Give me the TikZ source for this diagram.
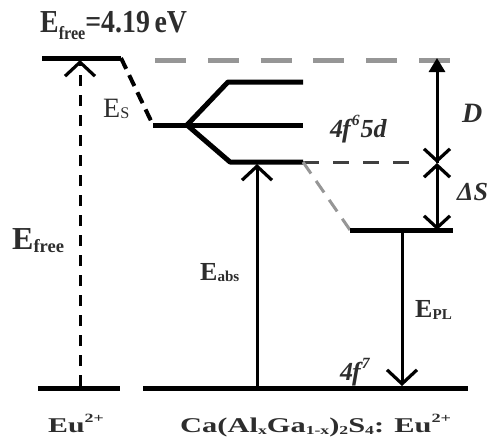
\documentclass[tikz,border=0pt]{standalone}
\usepackage{fontspec}
\setmainfont{Liberation Serif}
\usetikzlibrary{arrows.meta}
\definecolor{lvlgray}{RGB}{150,150,150}
\definecolor{txtgray}{RGB}{45,45,45}
\newcommand\fsz[1]{\fontsize{#1}{#1}\selectfont}
\newcommand\lowsub[2]{\raisebox{-#2}{\scalebox{0.58}{#1}}}
\newcommand\highsup[1]{\raisebox{0.45em}{\scalebox{0.6}{#1}}}
\begin{document}
\begin{tikzpicture}[x=1pt,y=-1pt,
  level/.style={line width=5pt},
  arr/.style={line width=3pt},
  vtip/.tip={Straight Barb[length=14pt,width=30pt,line width=3.2pt]},
  xtip/.tip={Straight Barb[length=12pt,width=26pt,line width=3.2pt]},
  openV/.style={-vtip},
  lbl/.style={inner sep=0pt,anchor=base west,text=txtgray}]
\useasboundingbox (0,0) rectangle (494,445);
% coordinates
\coordinate (freeL) at (42,58);
\coordinate (freeR) at (121,58);
\coordinate (midL) at (153,125);
\coordinate (fan) at (187,125);
\coordinate (midR) at (303,125);
\coordinate (topK) at (228,82);
\coordinate (topR) at (303,82);
\coordinate (lowK) at (230,162);
\coordinate (lowR) at (303,162);
\coordinate (g1) at (155,60);
\coordinate (g2) at (451,60);
\coordinate (dashEnd) at (422,162);
\coordinate (relL) at (350,230);
\coordinate (relR) at (453,230);
\coordinate (euG1) at (38,388);
\coordinate (euG2) at (120,388);
\coordinate (gL) at (143,388);
\coordinate (gR) at (468,388);
\coordinate (efB) at (80,386);
\coordinate (efT) at (80,60);
\coordinate (absB) at (257,386);
\coordinate (absT) at (257,164);
\coordinate (plT) at (402,232);
\coordinate (plB) at (402,386);
\coordinate (dTop) at (437,58);
\coordinate (dTop2) at (437,72);
\coordinate (dMid) at (437,163);
\coordinate (dBot) at (437,230);
% levels
\draw[level] (freeL) -- (freeR);
\draw[line width=4pt,dash pattern=on 12pt off 7pt] (freeR) -- (midL);
\draw[level] (midL) -- (midR);
\draw[level,line join=round] (fan) -- (topK) -- (topR);
\draw[level,line join=round] (fan) -- (lowK) -- (lowR);
\draw[level,lvlgray,dash pattern=on 31pt off 21.8pt] (g1) -- (g2);
\draw[line width=3pt,black!75,dash pattern=on 16pt off 14pt] (lowR) -- (dashEnd);
\draw[line width=3pt,lvlgray,dash pattern=on 14pt off 9pt] (lowR) -- (relL);
\draw[level] (relL) -- (relR);
\draw[level] (euG1) -- (euG2);
\draw[level] (gL) -- (gR);
% arrows
\draw[arr,openV,dash pattern=on 11pt off 9pt] (efB) -- (efT);
\draw[arr,openV] (absB) -- (absT);
\draw[arr,openV] (plT) -- (plB);
\draw[arr,-{Triangle[length=14pt,width=16pt]}] (dMid) -- (dTop);
\draw[arr,-xtip] (dTop2) -- (dMid);
\draw[arr,xtip-xtip] (dMid) -- (dBot);
% labels
\node[lbl,font=\bfseries\fsz{32}] (lfreetop) at (40,32) {\scalebox{0.87}[1]{E\lowsub{free}{0.22em}=4.19\,eV}};
\node[lbl,font=\bfseries\fsz{32}] (lfree) at (12,249) {E\lowsub{free}{0.12em}};
\node[lbl,font=\fsz{28}] (les) at (103,117) {E\lowsub{S}{0.05em}};
\node[lbl,font=\bfseries\fsz{26}] (labs) at (200,280) {E\lowsub{abs}{0.05em}};
\node[lbl,font=\bfseries\fsz{26}] (lpl) at (415,317) {E\lowsub{PL}{0.1em}};
\node[lbl,font=\bfseries\itshape\fsz{28}] (ld) at (462,122) {D};
\node[lbl,font=\bfseries\itshape\fsz{26}] (l4f6) at (330,137) {4\kern-1pt f\kern1pt\highsup{6}\kern1pt5d};
\node[lbl,font=\bfseries\itshape\fsz{26}] (lds) at (457,200) {ΔS};
\node[lbl,font=\bfseries\itshape\fsz{26}] (l4f7) at (340,380) {4\kern-1pt f\kern1pt\highsup{7}};
\node[lbl,font=\bfseries\fsz{21}] (leu) at (48,432) {\scalebox{1.42}[1]{Eu\highsup{2+}}};
\node[lbl,font=\bfseries\fsz{21}] (lca) at (180,432) {\scalebox{1.45}[1]{Ca(Al\lowsub{x}{0.1em}Ga\lowsub{1-x}{0.1em})\lowsub{2}{0.1em}S\lowsub{4}{0.1em}: Eu\highsup{2+}}};
\end{tikzpicture}
\end{document}
